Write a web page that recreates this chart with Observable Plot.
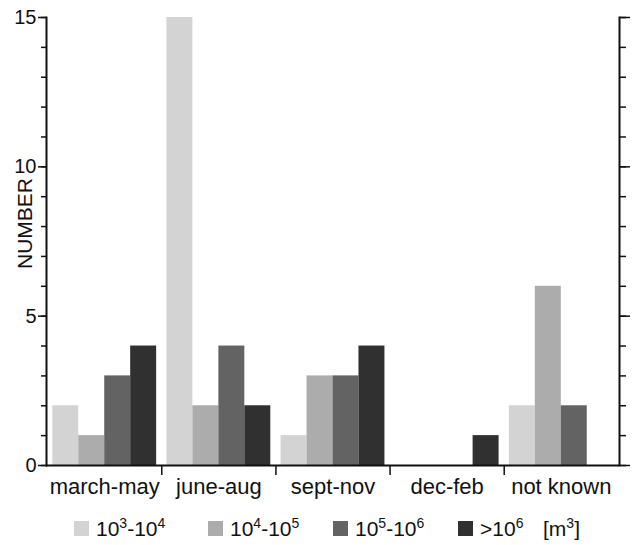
<!DOCTYPE html>
<html><head><meta charset="utf-8">
<script src="https://cdn.jsdelivr.net/npm/d3@7"></script>
<script src="https://cdn.jsdelivr.net/npm/@observablehq/plot@0.6"></script>
<style>
body{margin:0;background:#fff;font-family:"Liberation Sans",Arial,sans-serif;}
#chart svg{display:block;}
#legend{position:relative;width:632px;height:45px;}
.item{position:absolute;top:18px;font-size:21px;line-height:21px;color:#111;white-space:nowrap;}
.sw{display:inline-block;width:15px;height:15px;margin-right:7px;vertical-align:baseline;}
sup{font-size:14px;line-height:0;vertical-align:8px;}
</style></head><body><div id="chart"></div><div id="legend"></div>
<script>
const seasons = ["march-may", "june-aug", "sept-nov", "dec-feb", "not known"];
const classKeys = ["1e3-1e4", "1e4-1e5", "1e5-1e6", ">1e6"];
const classLabels = ["10<sup>3</sup>-10<sup>4</sup>", "10<sup>4</sup>-10<sup>5</sup>", "10<sup>5</sup>-10<sup>6</sup>", "&gt;10<sup>6</sup>"];
const unitLabel = "[m<sup>3</sup>]";
const values1e3 = [2, 15, 1, 0, 2];
const values1e4 = [1, 2, 3, 0, 6];
const values1e5 = [3, 4, 3, 0, 2];
const values1e6 = [4, 2, 4, 1, 0];
const classColors = ["#d3d3d3", "#acacac", "#636363", "#303030"];
const yMajorTicks = [0, 5, 10, 15];
const yMinorTicks = d3.range(0, 16);
const yLabel = "NUMBER";

const series = [values1e3, values1e4, values1e5, values1e6];
const table = [];
series.forEach((vals, j) => vals.forEach((v, i) => table.push({season: seasons[i], cls: classKeys[j], j, value: v})));

const W = 632, H = 500, mL = 46, mR = 13, mT = 17, mB = 35;
const pIn = 0.09, pOut = 0.055;
const xs = d3.scaleBand(seasons, [mL, W - mR]).paddingInner(pIn).paddingOuter(pOut);
const q = xs.bandwidth() / 4;
const halfStep = xs.step() / 2;

const bars = classKeys.map((k, j) => Plot.barY(table.filter(d => d.cls === k), {
  x: "season", y: "value", fill: classColors[j],
  insetLeft: j * q, insetRight: (3 - j) * q
}));

const svg = Plot.plot({
  width: W, height: H,
  marginLeft: mL, marginRight: mR, marginTop: mT, marginBottom: mB,
  style: {fontFamily: "'Liberation Sans', Arial, sans-serif", fontSize: "20px", color: "#111", background: "#fff"},
  x: {domain: seasons, paddingInner: pIn, paddingOuter: pOut, round: false},
  y: {domain: [0, 15]},
  marks: [
    ...bars,
    Plot.axisY({ticks: yMajorTicks, tickSize: 8, tickPadding: 2, fontSize: 20, strokeWidth: 1.5, label: null}),
    Plot.axisY({ticks: yMinorTicks, tickSize: 5, tickFormat: () => "", strokeWidth: 1.5, label: null}),
    Plot.axisY({anchor: "right", ticks: yMajorTicks, tickSize: 10, tickFormat: () => "", strokeWidth: 1.5, label: null}),
    Plot.axisY({anchor: "right", ticks: yMinorTicks, tickSize: 6, tickFormat: () => "", strokeWidth: 1.5, label: null}),
    Plot.frame({anchor: "left", strokeWidth: 2}),
    Plot.frame({anchor: "right", strokeWidth: 2}),
    Plot.ruleY([0], {strokeWidth: 2}),
    Plot.ruleX(seasons.slice(1), {x: d => d, y1: 0, y2: 0, insetBottom: -10, dx: -halfStep, strokeWidth: 1.5}),
    Plot.axisX({tickSize: 0, tickPadding: 13, fontSize: 22, label: null}),
    Plot.text([yLabel], {text: d => d, frameAnchor: "left", textAnchor: "middle", lineAnchor: "middle", dx: -21, dy: -18, rotate: -90, fontSize: 21})
  ]
});
document.getElementById("chart").appendChild(svg);

const legend = document.getElementById("legend");
const legendLeft = [74, 208, 333, 458];
classLabels.forEach((lab, j) => {
  const it = document.createElement("div");
  it.className = "item";
  it.style.left = legendLeft[j] + "px";
  it.innerHTML = `<span class="sw" style="background:${classColors[j]}"></span>${lab}`;
  legend.appendChild(it);
});
const unit = document.createElement("div");
unit.className = "item";
unit.style.left = "543px";
unit.innerHTML = unitLabel;
legend.appendChild(unit);
</script></body></html>
